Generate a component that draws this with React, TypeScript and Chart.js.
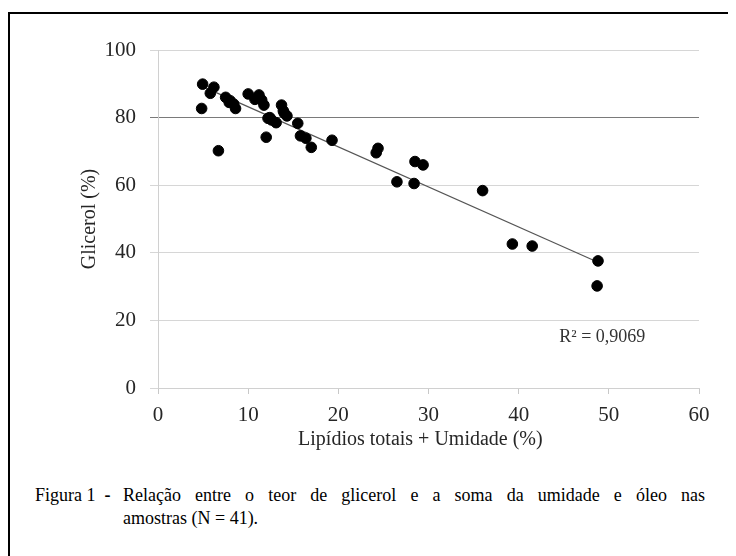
import React, { useEffect, useRef } from "react";
import { Chart, registerables } from "chart.js";

Chart.register(...registerables);

// Lipídios totais + Umidade (%)
const lipidios = [
  4.95, 4.84, 6.2, 5.8, 6.7, 7.5, 7.9, 8.4, 8.6, 10.0,
  10.75, 11.2, 11.5, 11.75, 12.0, 12.2, 12.6, 13.1, 13.7, 14.0,
  14.3, 15.5, 15.8, 16.4, 17.0, 19.3, 24.4, 24.2, 28.5, 29.4,
  26.5, 28.4, 36.0, 39.3, 41.5, 48.8, 48.7, 11.0, 12.4, 8.0, 13.9,
];
// Glicerol (%)
const glicerol = [
  89.9, 82.7, 89.0, 87.2, 70.2, 86.0, 84.5, 84.0, 82.7, 87.0,
  85.4, 86.7, 85.2, 83.7, 74.2, 79.8, 79.3, 78.5, 83.7, 81.3,
  80.5, 78.3, 74.6, 73.9, 71.2, 73.3, 70.9, 69.6, 67.0, 66.0,
  61.0, 60.5, 58.4, 42.6, 42.0, 37.6, 30.2, 85.8, 80.0, 85.0, 82.0,
];
const xTickValues = [0, 10, 20, 30, 40, 50, 60];
const yTickValues = [0, 20, 40, 60, 80, 100];
const xTitle = "Lipídios totais + Umidade (%)";
const yTitle = "Glicerol (%)";
const r2Label = "R² = 0,9069";
const captionLabel = "Figura 1";
const captionLine1 = "Relação entre o teor de glicerol e a soma da umidade e óleo nas";
const captionLine2 = "amostras (N = 41).";

function linearFit(xs: number[], ys: number[]) {
  const n = xs.length;
  const mx = xs.reduce((a, b) => a + b, 0) / n;
  const my = ys.reduce((a, b) => a + b, 0) / n;
  let sxy = 0;
  let sxx = 0;
  for (let i = 0; i < n; i++) {
    sxy += (xs[i] - mx) * (ys[i] - my);
    sxx += (xs[i] - mx) * (xs[i] - mx);
  }
  const slope = sxy / sxx;
  return { slope, intercept: my - slope * mx };
}

const SERIF = "'Liberation Serif', 'Times New Roman', Times, serif";

export default function App() {
  const canvasRef = useRef<HTMLCanvasElement | null>(null);

  useEffect(() => {
    const canvas = canvasRef.current;
    if (!canvas) return;
    const fit = linearFit(lipidios, glicerol);
    const xmin = Math.min(...lipidios);
    const xmax = Math.max(...lipidios);
    const trend = [
      { x: xmin, y: fit.intercept + fit.slope * xmin },
      { x: xmax, y: fit.intercept + fit.slope * xmax },
    ];
    const points = lipidios.map((x, i) => ({ x, y: glicerol[i] }));

    const textPlugin = {
      id: "extraText",
      afterDatasetsDraw(chart: any) {
        const { ctx, scales } = chart;
        ctx.save();
        // R² label
        ctx.font = `18px ${SERIF}`;
        ctx.fillStyle = "#333333";
        ctx.textAlign = "left";
        ctx.textBaseline = "middle";
        ctx.fillText(r2Label, scales.x.getPixelForValue(44.5), scales.y.getPixelForValue(15.0));
        // x axis title
        ctx.font = `20px ${SERIF}`;
        ctx.fillStyle = "#262626";
        ctx.textAlign = "center";
        ctx.fillText(xTitle, scales.x.getPixelForValue(29.1), scales.y.bottom + 52);
        ctx.restore();
      },
    };

    const chart = new Chart(canvas, {
      type: "scatter",
      data: {
        datasets: [
          {
            type: "line",
            data: trend,
            borderColor: "#555555",
            borderWidth: 1.2,
            pointRadius: 0,
            fill: false,
            order: 2,
          } as any,
          {
            data: points,
            backgroundColor: "#000000",
            borderColor: "#000000",
            pointRadius: 5.3,
            pointHoverRadius: 5.3,
            order: 1,
          },
        ],
      },
      options: {
        animation: false,
        responsive: false,
        devicePixelRatio: 1,
        plugins: {
          legend: { display: false },
          tooltip: { enabled: false },
        },
        layout: { padding: { left: 0, top: 42, right: 37, bottom: 0 } },
        scales: {
          x: {
            type: "linear",
            min: 0,
            max: 60,
            afterBuildTicks: (scale: any) => {
              scale.ticks = xTickValues.map((v) => ({ value: v }));
            },
            afterFit: (scale: any) => {
              scale.height = 68;
            },
            ticks: {
              font: { family: SERIF, size: 21 },
              color: "#262626",
              padding: 9,
              maxRotation: 0,
            },
            grid: {
              drawOnChartArea: false,
              drawTicks: true,
              tickLength: 6,
              color: "#c8c8c8",
            },
            border: { color: "#d0d0d0", width: 1 },
          },
          y: {
            type: "linear",
            min: 0,
            max: 100,
            afterBuildTicks: (scale: any) => {
              scale.ticks = yTickValues.map((v) => ({ value: v }));
            },
            afterFit: (scale: any) => {
              scale.width = 150;
            },
            ticks: {
              font: { family: SERIF, size: 21 },
              color: "#262626",
              padding: 14,
            },
            grid: {
              color: (c: any) => (c.tick && c.tick.value === 80 ? "#7a7a7a" : "#d6d6d6"),
              tickLength: 8,
              drawTicks: true,
            },
            border: { color: "#d0d0d0", width: 1 },
            title: {
              display: true,
              text: yTitle,
              font: { family: SERIF, size: 20 },
              color: "#262626",
              padding: { top: 70, bottom: 0 },
            },
          },
        },
      },
      plugins: [textPlugin],
    });

    return () => {
      chart.destroy();
    };
  }, []);

  return (
    <div
      style={{
        position: "relative",
        width: 728,
        height: 548,
        overflow: "hidden",
        background: "#ffffff",
        fontFamily: SERIF,
      }}
    >
      <div
        style={{
          position: "absolute",
          left: 0,
          top: 4,
          width: 800,
          height: 700,
          borderTop: "2px solid #000",
          borderLeft: "2px solid #000",
        }}
      />
      <canvas
        ref={canvasRef}
        width={728}
        height={448}
        style={{ position: "absolute", left: 0, top: 0, width: 728, height: 448 }}
      />
      <div
        style={{
          position: "absolute",
          left: 27,
          top: 476,
          width: 670,
          fontSize: 18,
          lineHeight: "23px",
          color: "#000",
        }}
      >
        <div style={{ display: "flex" }}>
          <div style={{ width: 88, whiteSpace: "nowrap" }}>
            {captionLabel}
            <b style={{ marginLeft: 9 }}>-</b>
          </div>
          <div style={{ flex: 1 }}>
            <div style={{ textAlign: "justify", textAlignLast: "justify" as any }}>{captionLine1}</div>
            <div>{captionLine2}</div>
          </div>
        </div>
      </div>
    </div>
  );
}
